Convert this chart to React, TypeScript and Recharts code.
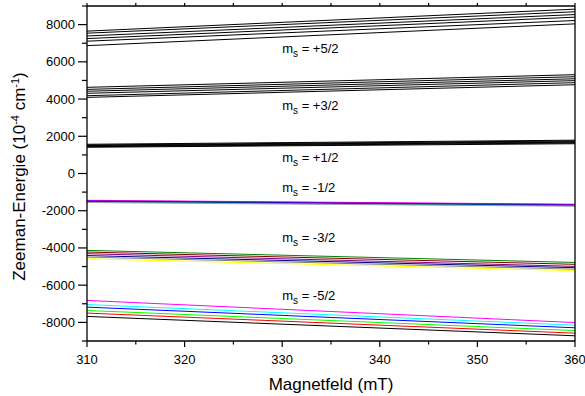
import { LineChart, Line, XAxis, YAxis, ReferenceDot } from 'recharts';

const FIELD = [310, 360];

// Zeeman energies (1e-4 cm^-1) at 310 mT and 360 mT, one pair per orientation
const MS_P52 = [[7650, 8830], [7540, 8690], [7390, 8540], [7250, 8400], [7110, 8220], [6870, 8040]];
const MS_P32 = [[4630, 5310], [4520, 5200], [4420, 5090], [4310, 4990], [4180, 4880], [4090, 4770]];
const MS_P12 = [[1570, 1790], [1530, 1750], [1500, 1710], [1470, 1680], [1440, 1640], [1410, 1600]];
const MS_M12 = [[-1440, -1650], [-1460, -1670], [-1480, -1690], [-1500, -1710], [-1530, -1730], [-1560, -1760]];
const MS_M32 = [[-4130, -4780], [-4220, -4880], [-4310, -4990], [-4410, -5060], [-4490, -5140], [-4580, -5220]];
const MS_M52 = [[-6820, -8010], [-7040, -8150], [-7180, -8290], [-7360, -8440], [-7500, -8580], [-7680, -8720]];

const BLACK = ['#000', '#000', '#000', '#000', '#000', '#000'];
const COL_M12 = ['#ff00ff', '#c000c0', '#8000ff', '#0000a0', '#008080', '#a0a0a0'];
const COL_M32 = ['#008000', '#800000', '#800080', '#000080', '#808080', '#ffff00'];
const COL_M52 = ['#ff00ff', '#00ffff', '#0000ff', '#00ff00', '#ff0000', '#000000'];

const GROUPS = [
  { key: 'p52', vals: MS_P52, colors: BLACK },
  { key: 'p32', vals: MS_P32, colors: BLACK },
  { key: 'p12', vals: MS_P12, colors: BLACK },
  { key: 'm12', vals: MS_M12, colors: COL_M12 },
  { key: 'm32', vals: MS_M32, colors: COL_M32 },
  { key: 'm52', vals: MS_M52, colors: COL_M52 },
];

const LABELS: [string, number][] = [
  ['+5/2', 6500],
  ['+3/2', 3400],
  ['+1/2', 600],
  ['-1/2', -1000],
  ['-3/2', -3700],
  ['-5/2', -6800],
];
const LABEL_X = 330;

const X_TICKS = [310, 315, 320, 325, 330, 335, 340, 345, 350, 355, 360];
const Y_TICKS = [-9000, -8000, -7000, -6000, -5000, -4000, -3000, -2000, -1000, 0,
  1000, 2000, 3000, 4000, 5000, 6000, 7000, 8000, 9000];

const rows = FIELD.map((b, i) => {
  const row: Record<string, number> = { B: b };
  GROUPS.forEach((g) => g.vals.forEach((v, j) => { row[`${g.key}_${j}`] = v[i]; }));
  return row;
});

const FONT = '"Liberation Sans", Arial, Helvetica, sans-serif';

const LeftTick = ({ x, y, payload }: any) => {
  const v = payload.value;
  const major = v % 2000 === 0 && Math.abs(v) < 9000;
  return (
    <g>
      <line x1={x - (major ? 9 : 5)} x2={x} y1={y} y2={y} stroke="#000" strokeWidth={1.2} />
      {major && (
        <text x={x - 12} y={y} dy={4.5} textAnchor="end" fontSize={13} fontFamily={FONT} fill="#000">
          {v}
        </text>
      )}
    </g>
  );
};

const RightTick = ({ x, y }: any) => (
  <line x1={x} x2={x + 4} y1={y} y2={y} stroke="#000" strokeWidth={1.2} />
);

const BottomTick = ({ x, y, payload }: any) => {
  const v = payload.value;
  const major = v % 10 === 0;
  return (
    <g>
      <line x1={x} x2={x} y1={y} y2={y + (major ? 6 : 3.5)} stroke="#000" strokeWidth={1.2} />
      {major && (
        <text x={x} y={y + 23} textAnchor="middle" fontSize={13} fontFamily={FONT} fill="#000">
          {v}
        </text>
      )}
    </g>
  );
};

const TopTick = ({ x, y }: any) => (
  <line x1={x} x2={x} y1={y} y2={y - 3} stroke="#000" strokeWidth={1.2} />
);

const XTitle = ({ viewBox }: any) => (
  <text x={viewBox.x + viewBox.width / 2} y={viewBox.y + 49} textAnchor="middle" fontSize={17} fontFamily={FONT} fill="#000">
    Magnetfeld (mT)
  </text>
);

const YTitle = ({ viewBox }: any) => {
  const cx = 25;
  const cy = viewBox.y + viewBox.height / 2 + 3;
  return (
    <text x={cx} y={cy} transform={`rotate(-90 ${cx} ${cy})`} textAnchor="middle" fontSize={17} fontFamily={FONT} fill="#000">
      <tspan>Zeeman-Energie (10</tspan>
      <tspan dy={-6} fontSize={11}>-4</tspan>
      <tspan dy={6}> cm</tspan>
      <tspan dy={-6} fontSize={11}>-1</tspan>
      <tspan dy={6}>)</tspan>
    </text>
  );
};

const MsLabel = ({ viewBox, ms }: any) => (
  <text x={viewBox.x} y={viewBox.y} fontSize={13} fontFamily={FONT} fill="#000">
    <tspan>m</tspan>
    <tspan dy={4} fontSize={10}>s</tspan>
    <tspan dy={-4}>{` = ${ms}`}</tspan>
  </text>
);

export default function App() {
  return (
    <div style={{ position: 'absolute', left: 0, top: 0, background: '#fff' }}>
      <LineChart width={585} height={396} data={rows} margin={{ top: 0, right: 0, bottom: 0, left: 0 }}>
        <XAxis
          dataKey="B"
          type="number"
          domain={[310, 360]}
          ticks={X_TICKS}
          interval={0}
          height={55}
          tickSize={0}
          tickMargin={0}
          tickLine={false}
          tick={<BottomTick />}
          axisLine={{ stroke: '#000', strokeWidth: 1.3 }}
          label={<XTitle />}
        />
        <XAxis
          xAxisId="top"
          orientation="top"
          dataKey="B"
          type="number"
          domain={[310, 360]}
          ticks={X_TICKS}
          interval={0}
          height={6}
          tickSize={0}
          tickMargin={0}
          tickLine={false}
          tick={<TopTick />}
          axisLine={{ stroke: '#000', strokeWidth: 1.3 }}
        />
        <YAxis
          type="number"
          domain={[-9000, 9000]}
          ticks={Y_TICKS}
          interval={0}
          width={87}
          tickSize={0}
          tickMargin={0}
          tickLine={false}
          tick={<LeftTick />}
          axisLine={{ stroke: '#000', strokeWidth: 1.3 }}
          label={<YTitle />}
        />
        <YAxis
          yAxisId="right"
          orientation="right"
          type="number"
          domain={[-9000, 9000]}
          ticks={Y_TICKS}
          interval={0}
          width={10}
          tickSize={0}
          tickMargin={0}
          tickLine={false}
          tick={<RightTick />}
          axisLine={{ stroke: '#000', strokeWidth: 1.3 }}
        />
        {GROUPS.map((g) =>
          g.vals.map((_, j) => (
            <Line
              key={`${g.key}_${j}`}
              dataKey={`${g.key}_${j}`}
              type="linear"
              stroke={g.colors[j]}
              strokeWidth={1}
              dot={false}
              activeDot={false}
              isAnimationActive={false}
            />
          ))
        )}
        {LABELS.map(([ms, y]) => (
          <ReferenceDot key={ms} x={LABEL_X} y={y} r={0} stroke="none" fill="none" label={<MsLabel ms={ms} />} />
        ))}
      </LineChart>
    </div>
  );
}
